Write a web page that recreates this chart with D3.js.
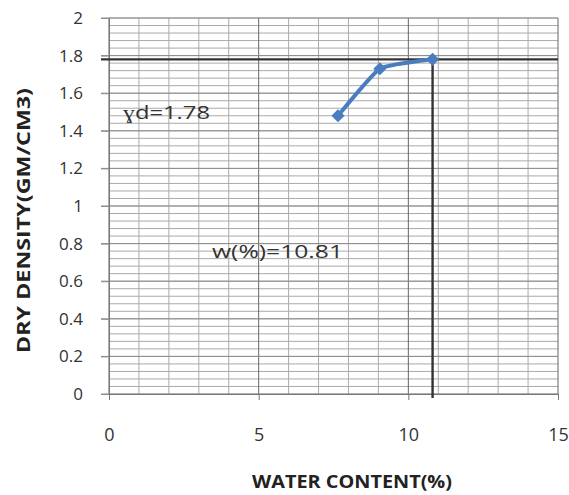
<!DOCTYPE html>
<html><head><meta charset="utf-8">
<script src="https://cdn.jsdelivr.net/npm/d3@7"></script>
<style>body{margin:0;background:#fff}</style>
</head><body>
<svg id="c" width="569" height="495"></svg>
<script>
const waterContent = [7.65, 9.05, 10.81];
const dryDensity = [1.48, 1.73, 1.78];
const xTicks = [0, 5, 10, 15];
const yTicks = [0, 0.2, 0.4, 0.6, 0.8, 1, 1.2, 1.4, 1.6, 1.8, 2];
const mddValue = 1.78;
const omcValue = 10.81;
const annotations = ["ɣd=1.78", "w(%)=10.81"];
const xTitle = "WATER CONTENT(%)";
const yTitle = "DRY DENSITY(GM/CM3)";

const svg = d3.select("#c");
const x = d3.scaleLinear().domain([0, 15]).range([109, 558]);
const y = d3.scaleLinear().domain([0, 2]).range([394, 18]);
const g = svg.append("g");

// minor horizontal gridlines
g.selectAll(".hm").data(d3.range(0, 2.0001, 0.04)).join("line")
  .attr("x1", x(0)).attr("x2", x(15)).attr("y1", d => y(d)).attr("y2", d => y(d))
  .attr("stroke", "#aaa").attr("stroke-width", 1);
// vertical gridlines
g.selectAll(".vm").data(d3.range(0, 15.001, 1)).join("line")
  .attr("y1", y(0)).attr("y2", y(2)).attr("x1", d => x(d)).attr("x2", d => x(d))
  .attr("stroke", d => d % 5 === 0 ? "#666" : "#aaa").attr("stroke-width", 1);
// major horizontal gridlines
g.selectAll(".hM").data(yTicks).join("line")
  .attr("x1", x(0) - 8).attr("x2", x(15)).attr("y1", d => y(d)).attr("y2", d => y(d))
  .attr("stroke", "#8c8c8c").attr("stroke-width", 1);

// axes
const xa = svg.append("g").attr("transform", `translate(0,${y(0)})`)
  .call(d3.axisBottom(x).tickValues(xTicks).tickSize(6).tickPadding(28));
xa.select(".domain").attr("stroke", "#777");
xa.selectAll(".tick line").attr("stroke", "#777");
xa.selectAll("text").attr("font-family", "Open Sans").attr("font-size", 18).attr("fill", "#333");

const ya = svg.append("g").attr("transform", `translate(${x(0)},0)`)
  .call(d3.axisLeft(y).tickValues(yTicks).tickSize(8).tickPadding(18).tickFormat(d3.format("~g")));
ya.select(".domain").attr("stroke", "#777");
ya.selectAll(".tick line").attr("stroke", "#8c8c8c");
ya.selectAll("text").attr("font-family", "Open Sans").attr("font-size", 17).attr("fill", "#333");

// reference lines
svg.append("line").attr("x1", x(0) - 8).attr("x2", x(15)).attr("y1", y(mddValue)).attr("y2", y(mddValue))
  .attr("stroke", "#333").attr("stroke-width", 2.4);
svg.append("line").attr("x1", x(omcValue)).attr("x2", x(omcValue)).attr("y1", y(mddValue)).attr("y2", y(0) + 4)
  .attr("stroke", "#333").attr("stroke-width", 2.4);

// data line
const pts = waterContent.map((w, i) => [w, dryDensity[i]]);
svg.append("path").datum(pts)
  .attr("d", d3.line().x(d => x(d[0])).y(d => y(d[1])).curve(d3.curveCardinal.tension(0.6)))
  .attr("fill", "none").attr("stroke", "#4a7cc0").attr("stroke-width", 4);
svg.selectAll(".pt").data(pts).join("path")
  .attr("d", d3.symbol(d3.symbolDiamond2, 110))
  .attr("transform", d => `translate(${x(d[0])},${y(d[1])})`)
  .attr("fill", "#4a7cc0");

// annotations
svg.append("text").attr("x", 123).attr("y", 119).text(annotations[0])
  .attr("textLength", 87).attr("lengthAdjust", "spacingAndGlyphs")
  .attr("font-family", "Open Sans").attr("font-size", 19).attr("fill", "#333");
svg.append("text").attr("x", 212).attr("y", 258).text(annotations[1])
  .attr("textLength", 131).attr("lengthAdjust", "spacingAndGlyphs")
  .attr("font-family", "Open Sans").attr("font-size", 19).attr("fill", "#333");

// titles
svg.append("text").attr("x", 252).attr("y", 488).text(xTitle)
  .attr("textLength", 200).attr("lengthAdjust", "spacingAndGlyphs")
  .attr("font-family", "Open Sans").attr("font-weight", "bold").attr("font-size", 17).attr("fill", "#222");
svg.append("text").attr("transform", "translate(30,353) rotate(-90)").text(yTitle)
  .attr("textLength", 265).attr("lengthAdjust", "spacingAndGlyphs")
  .attr("font-family", "Open Sans").attr("font-weight", "bold").attr("font-size", 17).attr("fill", "#222");
</script>
</body></html>
